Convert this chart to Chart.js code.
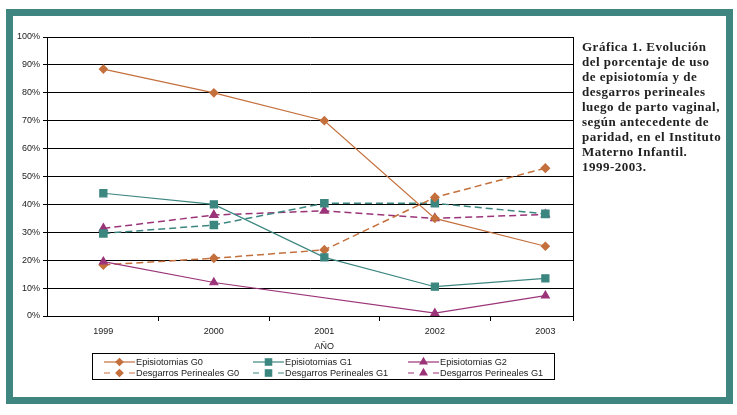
<!DOCTYPE html>
<html>
<head>
<meta charset="utf-8">
<script src="https://cdn.jsdelivr.net/npm/chart.js@4/dist/chart.umd.min.js"></script>
<style>
  html, body { margin: 0; padding: 0; background: #fff; }
  body { width: 737px; height: 415px; position: relative; overflow: hidden; }
  #chartBox { position: absolute; left: 0; top: 0; width: 590px; height: 395px; }
  #frame {
    position: absolute; left: 6px; top: 9px; width: 727px; height: 395px;
    box-sizing: border-box; border: 7px solid #3f8680; overflow: hidden;
  }
  #caption {
    position: absolute; left: 569px; top: 23px; width: 200px;
    font: bold 13px "Liberation Serif", "DejaVu Serif", serif;
    letter-spacing: 0.5px;
    line-height: 15px; color: #222; white-space: nowrap;
  }
</style>
</head>
<body>
<div id="chartBox"><canvas id="chart"></canvas></div>
<div id="frame">
  <div id="caption">Gráfica 1. Evolución<br>del porcentaje de uso<br>de episiotomía y de<br>desgarros perineales<br>luego de parto vaginal,<br>según antecedente de<br>paridad, en el Instituto<br>Materno Infantil.<br>1999-2003.</div>
</div>
<script>
// Years on the x axis
const years = [1999, 2000, 2001, 2002, 2003];

// Percentages
const episiotomiasG0 = [88.5, 80, 70, 35, 25];
const episiotomiasG1 = [44, 40, 21, 10.5, 13.5];
const episiotomiasG2 = [19.5, 12, null, 1, 7.3];
const desgarrosG0 = [18.3, 20.7, 23.7, 42.5, 53];
const desgarrosG1 = [29.6, 32.6, 40.4, 40.4, 36.6];
const desgarrosG1b = [31.4, 36.2, 37.7, 35, 36.4];

const seriesNames = [
    'Episiotomias G0', 'Episiotomias G1', 'Episiotomias G2',
    'Desgarros Perineales G0', 'Desgarros Perineales G1', 'Desgarros Perineales G1'
];

const ORANGE = '#c4703d';
const TEAL = '#3c8680';
const MAGENTA = '#9b3479';

function points(values) {
    return years.map((yr, i) => ({ x: yr, y: values[i] }));
}

function makeSet(label, values, color, style, radius, dashed) {
    return {
        label: label,
        data: points(values),
        borderColor: color,
        backgroundColor: color,
        pointBackgroundColor: color,
        pointBorderColor: color,
        pointStyle: style,
        pointRadius: radius,
        pointHoverRadius: radius,
        borderWidth: dashed ? 1.5 : 1.2,
        borderDash: dashed ? [7, 4] : [],
        tension: 0,
        spanGaps: true
    };
}

// Draws the framed legend, the AÑO label and the right edge of the plot
const extras = {
    id: 'extras',
    afterDraw(chart) {
        const ctx = chart.ctx;
        const area = chart.chartArea;
        const xs = chart.scales.x;
        ctx.save();

        // right border of plot area
        ctx.strokeStyle = '#000';
        ctx.lineWidth = 1;
        ctx.beginPath();
        ctx.moveTo(Math.round(area.right) + 0.5, area.top);
        ctx.lineTo(Math.round(area.right) + 0.5, area.bottom + 5);
        ctx.stroke();

        // axis title centred on the middle year
        ctx.fillStyle = '#222';
        ctx.font = '9px "Liberation Sans", Arial, sans-serif';
        ctx.textAlign = 'center';
        ctx.textBaseline = 'middle';
        ctx.fillText('AÑO', xs.getPixelForValue(years[2]), 347);

        // legend box
        ctx.strokeStyle = '#000';
        ctx.strokeRect(92.5, 353.5, 462, 26);

        const cols = [104, 253, 408];
        const rows = [362, 373];
        ctx.font = '9.2px "Liberation Sans", Arial, sans-serif';
        ctx.textAlign = 'left';
        chart.data.datasets.forEach((ds, i) => {
            const x0 = cols[i % 3];
            const y = rows[Math.floor(i / 3)];
            const x1 = x0 + 31;
            ctx.strokeStyle = ds.borderColor;
            ctx.lineWidth = 1.2;
            ctx.setLineDash([]);
            ctx.beginPath();
            if (ds.borderDash.length) {
                ctx.moveTo(x0, y); ctx.lineTo(x0 + 6, y);
                ctx.moveTo(x1 - 6, y); ctx.lineTo(x1, y);
            } else {
                ctx.moveTo(x0, y); ctx.lineTo(x1, y);
            }
            ctx.stroke();
            ctx.fillStyle = ds.borderColor;
            Chart.helpers.drawPoint(ctx, {
                pointStyle: ds.pointStyle, radius: ds.pointRadius - 0.5,
                rotation: 0, borderWidth: 1
            }, (x0 + x1) / 2, y);
            ctx.fillStyle = '#222';
            ctx.fillText(ds.label, x1 + 1, y);
        });
        ctx.restore();
    }
};

function initializeChart() {
    const ctx = document.getElementById('chart').getContext('2d');
    new Chart(ctx, {
        type: 'line',
        data: {
            datasets: [
                makeSet(seriesNames[0], episiotomiasG0, ORANGE, 'rectRot', 4, false),
                makeSet(seriesNames[1], episiotomiasG1, TEAL, 'rect', 5, false),
                makeSet(seriesNames[2], episiotomiasG2, MAGENTA, 'triangle', 4.5, false),
                makeSet(seriesNames[3], desgarrosG0, ORANGE, 'rectRot', 4, true),
                makeSet(seriesNames[4], desgarrosG1, TEAL, 'rect', 5, true),
                makeSet(seriesNames[5], desgarrosG1b, MAGENTA, 'triangle', 4.5, true)
            ]
        },
        options: {
            responsive: true,
            maintainAspectRatio: false,
            animation: false,
            layout: { padding: { left: 0, right: 17, top: 37, bottom: 59 } },
            plugins: {
                legend: { display: false },
                tooltip: { enabled: false }
            },
            scales: {
                x: {
                    type: 'linear',
                    min: 1998.49,
                    max: 2003.25,
                    afterBuildTicks(scale) {
                        const t = [];
                        for (let v = years[0]; v <= years[years.length - 1]; v += 0.5) t.push({ value: v });
                        scale.ticks = t;
                    },
                    afterFit(scale) { scale.height = 20; },
                    ticks: {
                        autoSkip: false,
                        maxRotation: 0,
                        padding: 5,
                        color: '#222',
                        font: { family: '"Liberation Sans", Arial, sans-serif', size: 9 },
                        callback: (v) => Number.isInteger(v) ? String(v) : ''
                    },
                    grid: {
                        drawOnChartArea: false,
                        tickLength: 5,
                        tickColor: (c) => (c.tick && Number.isInteger(c.tick.value)) ? 'rgba(0,0,0,0)' : '#000'
                    },
                    border: { display: true, color: '#000', width: 1 }
                },
                y: {
                    min: 0,
                    max: 100,
                    afterFit(scale) { scale.width = 47; },
                    ticks: {
                        stepSize: 10,
                        padding: 3,
                        color: '#222',
                        font: { family: '"Liberation Sans", Arial, sans-serif', size: 9 },
                        callback: (v) => v + '%'
                    },
                    grid: { color: '#000', lineWidth: 1, tickLength: 4 },
                    border: { display: true, color: '#000', width: 1 }
                }
            }
        },
        plugins: [extras]
    });
}

document.addEventListener('DOMContentLoaded', initializeChart);
</script>
</body>
</html>
